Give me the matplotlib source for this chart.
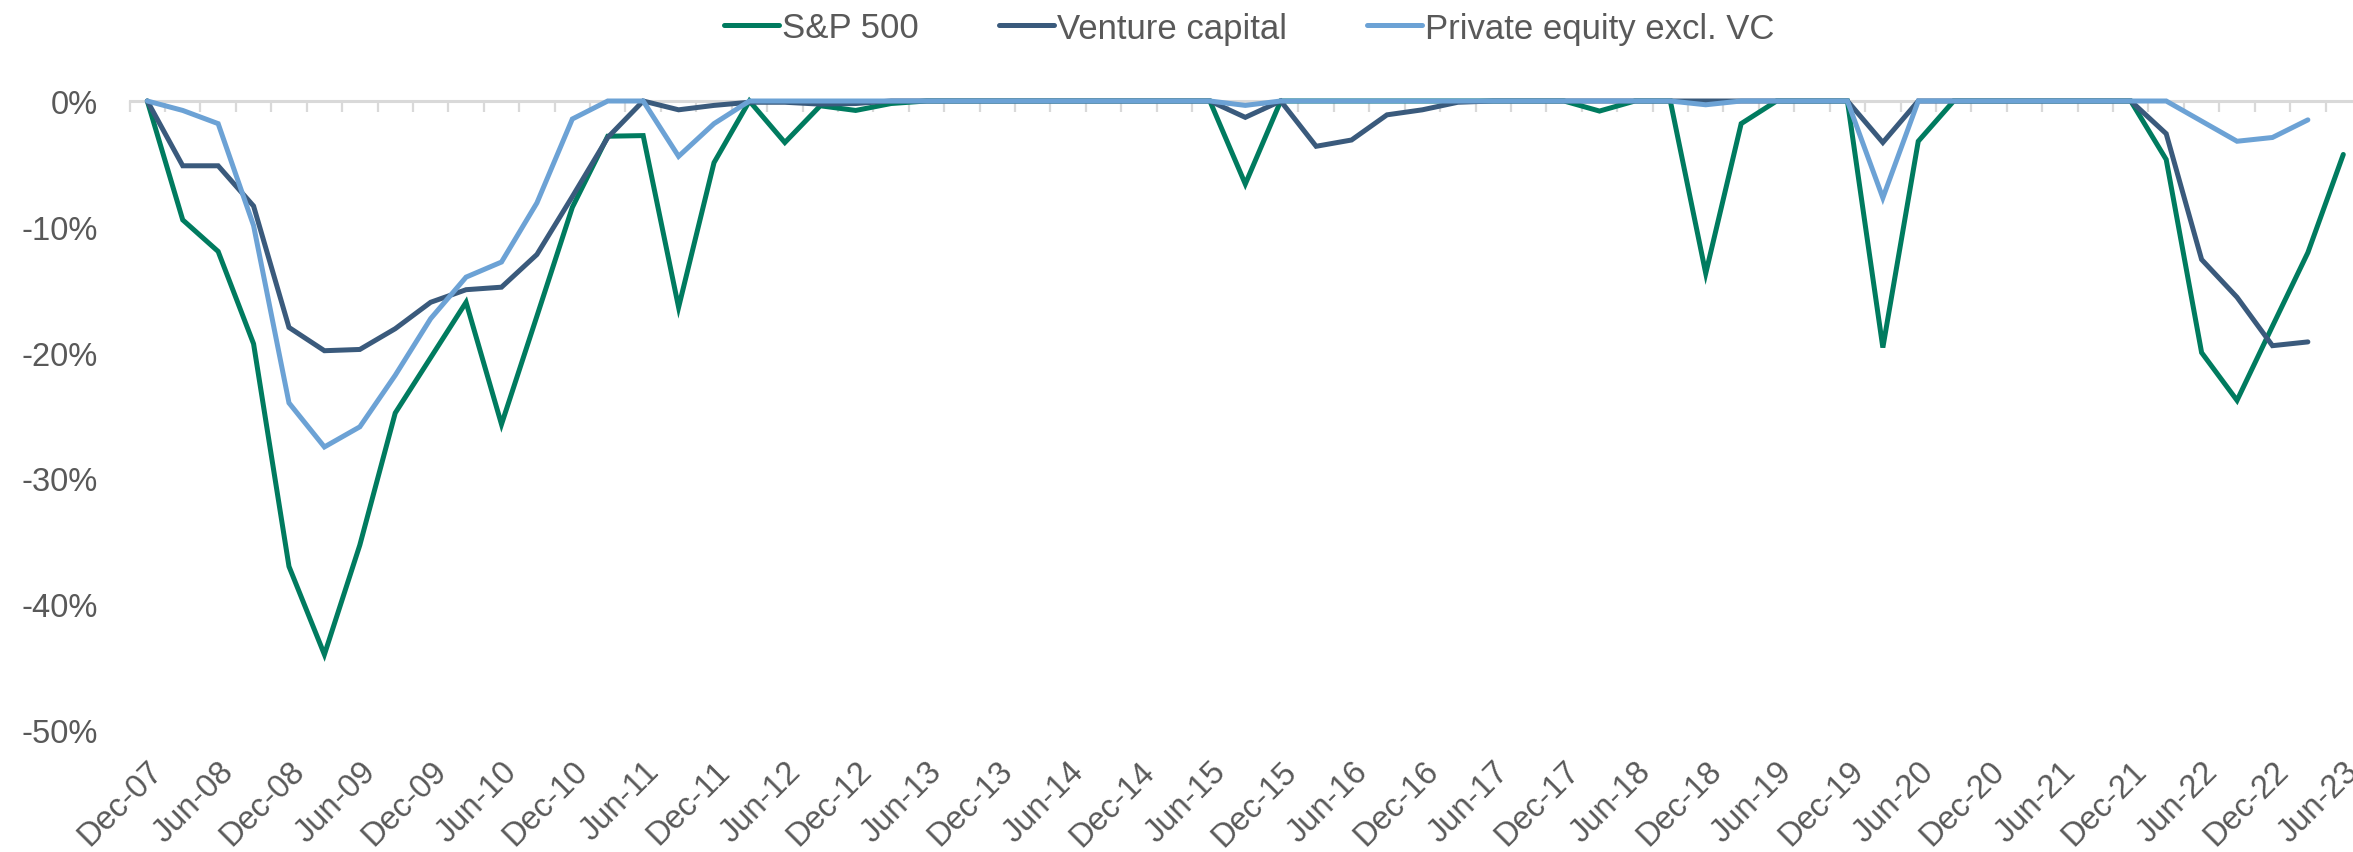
import numpy as np
import matplotlib
matplotlib.use("Agg")
import matplotlib.pyplot as plt

plt.rcParams['font.family'] = ['Liberation Sans', 'DejaVu Sans']

# quarterly drawdowns (%), Dec-07 .. Jun-23
quarters = []
for yr in range(2007, 2024):
    for mon in ["Mar", "Jun", "Sep", "Dec"]:
        quarters.append(f"{mon}-{str(yr)[2:]}")
quarters = quarters[3:3 + 63]  # Dec-07 .. Jun-23

sp500 = [0, -9.45, -11.96, -19.3, -37.0, -44.0, -35.3, -24.8, -20.4, -16.0,
         -25.7, -17.1, -8.45, -2.8, -2.75, -16.4, -4.9, 0, -3.3, -0.38,
         -0.75, -0.2, 0, 0, 0, 0, 0, 0, 0, 0,
         0, -6.6, 0, 0, 0, 0, 0, 0, 0, 0,
         0, -0.8, 0, 0, -13.7, -1.8, 0, 0, 0, -19.6,
         -3.2, 0, 0, 0, 0, 0, 0, -4.65, -20.0, -23.8,
         -17.9, -12.05, -4.25]

venture = [0, -5.15, -5.15, -8.35, -18.0, -19.85, -19.75, -18.1, -16.0, -15.0,
           -14.8, -12.2, -7.6, -2.9, 0, -0.7, -0.35, -0.1, -0.1, -0.25,
           -0.2, 0, 0, 0, 0, 0, 0, 0, 0, 0,
           0, -1.3, 0, -3.6, -3.1, -1.1, -0.7, -0.1, 0, 0,
           0, 0, 0, 0, 0, 0, 0, 0, 0, -3.3,
           0, 0, 0, 0, 0, 0, 0, -2.6, -12.6, -15.6,
           -19.45, -19.15, np.nan]

private_eq = [0, -0.75, -1.8, -9.9, -24.0, -27.5, -25.9, -21.8, -17.3, -14.0,
              -12.8, -8.1, -1.43, 0, 0, -4.4, -1.8, 0, 0, 0,
              0, 0, 0, 0, 0, 0, 0, 0, 0, 0,
              0, -0.35, 0, 0, 0, 0, 0, 0, 0, 0,
              0, 0, 0, 0, -0.3, 0, 0, 0, 0, -7.7,
              0, 0, 0, 0, 0, 0, 0, 0, -1.6, -3.2,
              -2.9, -1.5, np.nan]

series_names = ["S&P 500", "Venture capital", "Private equity excl. VC"]
colors = ["#007B5F", "#3A5A7C", "#6CA2D5"]
text_col = "#595959"
grid_col = "#D9D9D9"

W, H = 2353, 853
fig = plt.figure(figsize=(W / 100, H / 100), dpi=100)
ax = fig.add_axes([129.6 / W, 1 - 731 / H, (2361 - 129.6) / W, (731 - 102) / H])

x = np.arange(len(quarters))
handles = []
for vals, name, c in zip([sp500, venture, private_eq], series_names, colors):
    ln, = ax.plot(x, vals, color=c, lw=3.6, label=name, clip_on=False, zorder=3,
                  solid_capstyle='round', solid_joinstyle='miter')
    handles.append(ln)

ax.set_xlim(-0.5, len(quarters) - 0.5)
ax.set_ylim(-50, 0)

# y axis
ax.set_yticks(np.arange(-50, 1, 10))
ax.set_yticklabels([f"{v}%" for v in range(-50, 1, 10)])
ax.tick_params(axis='y', length=0, pad=23, labelsize=23.5, labelcolor=text_col)

# zero line with small tick marks between categories
ax.set_xticks(np.arange(-0.5, len(quarters)), minor=True)
ax.tick_params(axis='x', which='minor', bottom=False, top=True, direction='in',
               length=8, width=1.6, color=grid_col)
for s in ["left", "right", "bottom"]:
    ax.spines[s].set_visible(False)
ax.spines['top'].set_position(('data', 0))
ax.spines['top'].set_color(grid_col)
ax.spines['top'].set_linewidth(2.2)

# x axis labels every second quarter at the bottom
ax.set_xticks(x[::2])
ax.tick_params(axis='x', which='major', length=0, pad=18, labelsize=23.5,
               labelcolor=text_col, top=False)
ax.set_xticklabels(quarters[::2], rotation=45, ha='right', va='top',
                   rotation_mode='anchor')

fig.legend(handles=handles, loc='center', bbox_to_anchor=(0.531, 1 - 29 / H),
           ncol=3, frameon=False, fontsize=25, labelcolor=text_col,
           handlelength=1.58, handletextpad=0.1, columnspacing=2.3)

fig.savefig("out.png", dpi=100)
